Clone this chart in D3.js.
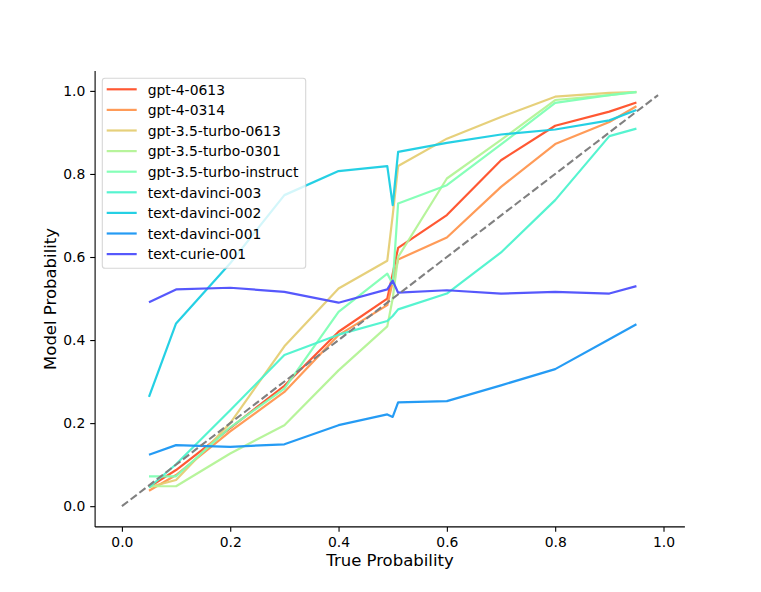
<!DOCTYPE html>
<html>
<head>
<meta charset="utf-8">
<script src="https://cdn.jsdelivr.net/npm/d3@7"></script>
<style>
  html, body { margin: 0; padding: 0; background: #fff; }
  svg { display: block; font-family: "DejaVu Sans", sans-serif; }
</style>
</head>
<body>
<svg id="chart" width="761" height="592"></svg>
<script>
// ---- data ----
const trueProb = [0.05, 0.1, 0.2, 0.3, 0.4, 0.49, 0.5, 0.51, 0.6, 0.7, 0.8, 0.9, 0.95];
const models = ["gpt-4-0613", "gpt-4-0314", "gpt-3.5-turbo-0613", "gpt-3.5-turbo-0301",
  "gpt-3.5-turbo-instruct", "text-davinci-003", "text-davinci-002", "text-davinci-001", "text-curie-001"];
const gpt4_0613     = [0.046, 0.087, 0.188, 0.290, 0.420, 0.500, 0.560, 0.622, 0.701, 0.833, 0.916, 0.950, 0.972];
const gpt4_0314     = [0.037, 0.075, 0.180, 0.275, 0.412, 0.484, 0.540, 0.594, 0.647, 0.769, 0.872, 0.925, 0.963];
const gpt35_0613    = [0.046, 0.063, 0.200, 0.385, 0.524, 0.591, 0.700, 0.819, 0.885, 0.937, 0.986, 0.995, 0.997];
const gpt35_0301    = [0.048, 0.048, 0.127, 0.195, 0.327, 0.433, 0.500, 0.600, 0.789, 0.882, 0.978, 0.990, 0.998];
const gpt35_instruct= [0.072, 0.072, 0.190, 0.283, 0.468, 0.560, 0.535, 0.729, 0.773, 0.871, 0.971, 0.990, 0.997];
const davinci003    = [0.045, 0.101, 0.231, 0.364, 0.413, 0.446, 0.458, 0.474, 0.512, 0.611, 0.737, 0.891, 0.909];
const davinci002    = [0.263, 0.440, 0.585, 0.749, 0.807, 0.819, 0.725, 0.853, 0.875, 0.895, 0.907, 0.929, 0.954];
const davinci001    = [0.124, 0.147, 0.143, 0.149, 0.195, 0.221, 0.215, 0.250, 0.253, 0.291, 0.330, 0.402, 0.438];
const curie001      = [0.491, 0.522, 0.526, 0.516, 0.490, 0.522, 0.543, 0.514, 0.520, 0.512, 0.516, 0.512, 0.530];
const seriesValues = [gpt4_0613, gpt4_0314, gpt35_0613, gpt35_0301, gpt35_instruct, davinci003, davinci002, davinci001, curie001];
const diagonal = [0, 0.99];
const tickValues = [0, 0.2, 0.4, 0.6, 0.8, 1.0];

(function () {
// matplotlib "rainbow" colormap
function rainbow(t) {
  const r = Math.min(1, Math.abs(2 * t - 0.5));
  const g = Math.sin(Math.PI * t);
  const b = Math.cos(Math.PI * t / 2);
  return d3.rgb(r * 255, g * 255, b * 255).toString();
}
const cmapPos = [0.9, 0.8, 0.7, 0.6, 0.5, 0.4, 0.3, 0.2, 0.1];

// ---- layout ----
const mL = 95.1, mR = 684.9, mT = 71.0, mB = 526.9;
const svg = d3.select("#chart");

const x = d3.scaleLinear().domain([-0.0495, 1.0395]).range([mL, mR]);
const y = d3.scaleLinear().domain([-0.0499, 1.0479]).range([mB, mT]);

// lines
const line = d3.line().x(d => x(d[0])).y(d => y(d[1]));
const gLines = svg.append("g");
seriesValues.forEach((vals, i) => {
  gLines.append("path")
    .datum(trueProb.map((t, j) => [t, vals[j]]))
    .attr("d", line)
    .attr("fill", "none")
    .attr("stroke", rainbow(cmapPos[i]))
    .attr("stroke-opacity", 0.95)
    .attr("stroke-width", 2.2)
    .attr("stroke-linejoin", "round");
});

// diagonal
svg.append("path")
  .datum(diagonal.map(v => [v, v]))
  .attr("d", line)
  .attr("fill", "none")
  .attr("stroke", "#808080")
  .attr("stroke-width", 2.1)
  .attr("stroke-dasharray", "7.7,3.3");

// axes
const fontTick = 13.9;
const xAxis = d3.axisBottom(x).tickValues(tickValues).tickFormat(d3.format(".1f"))
  .tickSizeInner(4.9).tickSizeOuter(0).tickPadding(4.9);
const yAxis = d3.axisLeft(y).tickValues(tickValues).tickFormat(d3.format(".1f"))
  .tickSizeInner(4.9).tickSizeOuter(0).tickPadding(4.9);

const gx = svg.append("g").attr("transform", `translate(0,${mB})`).call(xAxis);
const gy = svg.append("g").attr("transform", `translate(${mL},0)`).call(yAxis);
[gx, gy].forEach(g => {
  g.select(".domain").attr("stroke", "#000").attr("stroke-width", 1.1);
  g.selectAll(".tick line").attr("stroke", "#000").attr("stroke-width", 1.1);
  g.selectAll(".tick text").attr("font-family", "DejaVu Sans").attr("font-size", fontTick).attr("fill", "#000");
});
gx.select(".domain").attr("d", `M${mL},0H${mR}`);
gy.select(".domain").attr("d", `M0,${mT}V${mB}`);

// axis labels
svg.append("text")
  .attr("x", (mL + mR) / 2).attr("y", 566)
  .attr("text-anchor", "middle")
  .attr("font-size", 16.5)
  .text("True Probability");
svg.append("text")
  .attr("transform", `translate(56,${(mT + mB) / 2}) rotate(-90)`)
  .attr("text-anchor", "middle")
  .attr("font-size", 16.5)
  .text("Model Probability");

// legend
const lg = svg.append("g");
lg.append("rect")
  .attr("x", 102.3).attr("y", 78.3)
  .attr("width", 203.4).attr("height", 190)
  .attr("rx", 2.8).attr("ry", 2.8)
  .attr("fill", "#fff").attr("fill-opacity", 0.8)
  .attr("stroke", "#cccccc").attr("stroke-opacity", 0.8).attr("stroke-width", 1.1);
models.forEach((name, i) => {
  const yy = 89.3 + i * 20.6;
  lg.append("line")
    .attr("x1", 106.7).attr("x2", 136.7).attr("y1", yy).attr("y2", yy)
    .attr("stroke", rainbow(cmapPos[i])).attr("stroke-opacity", 0.95).attr("stroke-width", 2.2);
  lg.append("text")
    .attr("x", 147.7).attr("y", yy + 5.2)
    .attr("font-size", fontTick)
    .text(name);
});
})();
</script>
</body>
</html>
